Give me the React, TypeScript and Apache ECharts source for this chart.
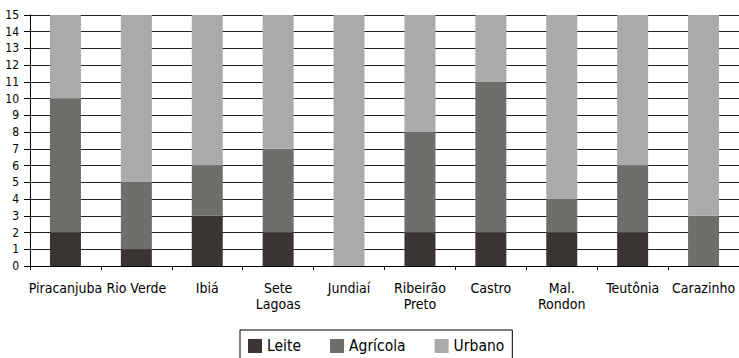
import React, { useEffect, useRef } from "react";
import * as echarts from "echarts";

// Municipalities (two-line names break with \n)
const categories = [
  "Piracanjuba",
  "Rio Verde",
  "Ibiá",
  "Sete\nLagoas",
  "Jundiaí",
  "Ribeirão\nPreto",
  "Castro",
  "Mal.\nRondon",
  "Teutônia",
  "Carazinho",
];

// Stacked counts per municipality
const leite = [2, 1, 3, 2, 0, 2, 2, 2, 2, 0];
const agricola = [8, 4, 3, 5, 0, 6, 9, 2, 4, 3];
const urbano = [5, 10, 9, 8, 15, 7, 4, 11, 9, 12];

const seriesNames = ["Leite", "Agrícola", "Urbano"];
const seriesColors = ["#3a3532", "#706e6b", "#aaaaaa"];

const FONT = "'DejaVu Sans Condensed', 'Liberation Sans Narrow', sans-serif";

export default function App() {
  const ref = useRef<HTMLDivElement>(null);

  useEffect(() => {
    if (!ref.current) return;
    const chart = echarts.init(ref.current, null, { renderer: "svg" });
    const values = [leite, agricola, urbano];
    chart.setOption({
      animation: false,
      textStyle: { fontFamily: FONT },
      grid: { left: 30, right: -3, top: 15, bottom: 92, containLabel: false },
      legend: {
        data: seriesNames,
        left: 240,
        top: 330,
        orient: "horizontal",
        icon: "rect",
        itemWidth: 14,
        itemHeight: 14,
        itemGap: 29,
        padding: [8, 8, 8, 8],
        borderColor: "#000",
        borderWidth: 1,
        borderRadius: 0,
        textStyle: { fontFamily: FONT, fontSize: 15.5, color: "#000" },
      },
      xAxis: {
        type: "category",
        data: categories,
        axisLine: { lineStyle: { color: "#000", width: 1 } },
        axisTick: { show: true, length: 4, lineStyle: { color: "#000" } },
        axisLabel: {
          interval: 0,
          margin: 14,
          color: "#000",
          fontFamily: FONT,
          fontSize: 14,
          lineHeight: 16,
        },
      },
      yAxis: {
        type: "value",
        min: 0,
        max: 15,
        interval: 1,
        axisLine: { show: true, lineStyle: { color: "#000", width: 1 } },
        axisTick: { show: true, length: 6, lineStyle: { color: "#000" } },
        splitLine: { show: true, lineStyle: { color: "#222", width: 1 } },
        axisLabel: {
          margin: 11,
          color: "#000",
          fontFamily: FONT,
          fontSize: 12,
        },
      },
      series: seriesNames.map((name, i) => ({
        name,
        type: "bar",
        stack: "total",
        barWidth: 31,
        data: values[i],
        itemStyle: { color: seriesColors[i] },
      })),
    });
    return () => chart.dispose();
  }, []);

  return (
    <div
      ref={ref}
      style={{ position: "fixed", left: 0, top: 0, width: 739, height: 358, background: "#fff" }}
    />
  );
}
